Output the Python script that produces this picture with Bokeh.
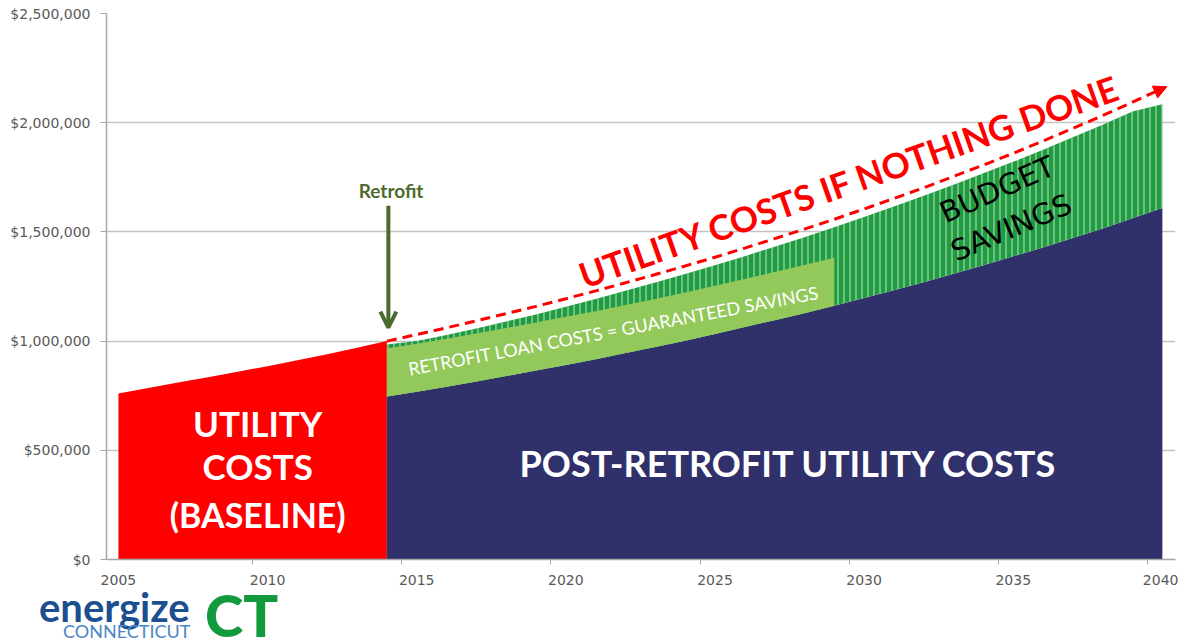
from bokeh.plotting import figure
from bokeh.layouts import column
from bokeh.models import Range1d, FixedTicker, NumeralTickFormatter, Label, Arrow, OpenHead, NormalHead, Div
from bokeh.embed import file_html
from bokeh.resources import INLINE

# ---------------- data (US$) ----------------
base_years = [2005, 2006, 2007, 2008, 2009, 2010, 2011, 2012, 2013, 2014]
baseline_costs = [760000, 785000, 810000, 835000, 860000, 885000, 912000, 940000, 970000, 1000000]

after_years = [2014, 2015, 2016, 2017, 2018, 2019, 2020, 2021, 2022, 2023, 2024, 2025, 2026,
               2027, 2028, 2029, 2030, 2031, 2032, 2033, 2034, 2035, 2036, 2037, 2038, 2039, 2040]
nothing_done = [1000000, 1030000, 1061000, 1093000, 1126000, 1159000, 1194000, 1230000, 1267000,
                1305000, 1344000, 1384000, 1426000, 1469000, 1513000, 1558000, 1605000, 1653000,
                1702000, 1754000, 1806000, 1860000, 1916000, 1974000, 2033000, 2094000, 2157000]
post_retrofit = [746000, 768000, 791000, 815000, 840000, 865000, 891000, 917000, 945000, 973000,
                 1002000, 1033000, 1064000, 1096000, 1128000, 1162000, 1197000, 1233000, 1270000,
                 1308000, 1347000, 1388000, 1429000, 1472000, 1516000, 1562000, 1609000]
budget_savings_top = [985000, 1000000, 1028000, 1058000, 1090000, 1122000, 1157000, 1193000, 1230000,
                      1268000, 1307000, 1347000, 1389000, 1432000, 1476000, 1521000, 1568000, 1616000,
                      1665000, 1716000, 1768000, 1821000, 1876000, 1933000, 1991000, 2051000, 2085000]
loan_years = [2014, 2015, 2016, 2017, 2018, 2019, 2020, 2021, 2022, 2023, 2024, 2025, 2026, 2027, 2028, 2029]
loan_top = [966000, 988000, 1011000, 1035000, 1060000, 1085000, 1111000, 1137000, 1165000,
            1193000, 1222000, 1253000, 1284000, 1316000, 1348000, 1382000]

x_tick_years = [2005, 2010, 2015, 2020, 2025, 2030, 2035, 2040]
x_tick_marks = [2004.5, 2009.5, 2014.5, 2019.5, 2024.5, 2029.5, 2034.5, 2039.5]
y_ticks = [0, 500000, 1000000, 1500000, 2000000, 2500000]

retrofit_year = 2014.05

# ---------------- figure ----------------
p = figure(width=1178, height=590,
           x_range=Range1d(2004.6, 2040.44), y_range=Range1d(0, 2500000),
           output_backend="svg", toolbar_location=None,
           min_border_left=106, min_border_right=3, min_border_top=13, min_border_bottom=31)
p.outline_line_color = None
p.background_fill_color = "white"
p.xgrid.visible = False
p.ygrid.grid_line_color = "#c4c4c4"
p.ygrid.grid_line_width = 1.5

p.yaxis.ticker = FixedTicker(ticks=y_ticks)
p.yaxis.formatter = NumeralTickFormatter(format="$0,0")
p.xaxis.ticker = FixedTicker(ticks=x_tick_years, minor_ticks=x_tick_marks)
for ax in (p.xaxis[0], p.yaxis[0]):
    ax.axis_line_color = "#a6a6a6"
    ax.axis_line_width = 1.5
    ax.major_tick_line_color = "#a6a6a6"
    ax.minor_tick_line_color = "#a6a6a6"
    ax.major_label_text_color = "#595959"
    ax.major_label_text_font = "DejaVu Sans"
    ax.major_label_text_font_size = "14px"
p.yaxis.major_tick_out = 6
p.yaxis.major_tick_in = 0
p.yaxis.minor_tick_out = 0
p.yaxis.minor_tick_in = 0
p.yaxis.major_label_standoff = 10
p.xaxis.major_tick_out = 0
p.xaxis.major_tick_in = 0
p.xaxis.minor_tick_out = 5
p.xaxis.minor_tick_in = 0
p.xaxis.major_label_standoff = 10

# ---------------- areas ----------------
p.varea(x=base_years, y1=0, y2=baseline_costs, fill_color="#ff0000")
p.varea(x=after_years, y1=0, y2=post_retrofit, fill_color="#30306a")
p.varea(x=after_years, y1=post_retrofit, y2=budget_savings_top, fill_color="#1f9c3f",
        hatch_pattern="vertical_line", hatch_color="white", hatch_alpha=0.6,
        hatch_scale=6, hatch_weight=1.2)
p.varea(x=loan_years, y1=post_retrofit[:len(loan_years)], y2=loan_top, fill_color="#93c95a")

# dashed "if nothing done" line with arrow head
p.line(after_years, nothing_done, line_color="#ff0000", line_width=3, line_dash="10 6")
p.add_layout(Arrow(end=NormalHead(size=13, fill_color="#ff0000", line_color="#ff0000"),
                   x_start=after_years[-2], y_start=nothing_done[-2],
                   x_end=after_years[-1] + 0.15, y_end=nothing_done[-1] + 8000,
                   line_alpha=0))

# retrofit arrow
p.add_layout(Arrow(end=OpenHead(size=16, line_color="#4b6a2e", line_width=4),
                   x_start=retrofit_year, y_start=1620000, x_end=retrofit_year, y_end=1062000,
                   line_color="#4b6a2e", line_width=4))


def lab(fig, x, y, text, size, color, bold=True, angle=0.0, font="Lato"):
    fig.add_layout(Label(x=x, y=y, text=text, text_font=font, text_font_size=size,
                         text_color=color, text_font_style="bold" if bold else "normal",
                         text_align="center", text_baseline="middle", angle=angle))


lab(p, 2014.14, 1690000, "Retrofit", "19px", "#4e6b2e")
lab(p, 2029.5, 1735000, "UTILITY COSTS IF NOTHING DONE", "35px", "#ff0000", angle=0.34)
lab(p, 2021.6, 1049000, "RETROFIT LOAN COSTS = GUARANTEED SAVINGS", "18px", "white", bold=False, angle=0.185)
lab(p, 2034.46, 1694000, "BUDGET", "29px", "black", bold=False, angle=0.42, font="DejaVu Sans")
lab(p, 2034.93, 1520000, "SAVINGS", "29px", "black", bold=False, angle=0.40, font="DejaVu Sans")
lab(p, 2027.47, 444000, "POST-RETROFIT UTILITY COSTS", "36px", "white")
lab(p, 2009.67, 627000, "UTILITY", "35px", "white")
lab(p, 2009.67, 426000, "COSTS", "35px", "white")
lab(p, 2009.67, 206000, "(BASELINE)", "34px", "white")

# ---------------- logo strip ----------------
logo_html = (
    '<div style="position:relative;width:320px;height:50px;font-family:Lato, sans-serif;">'
    '<span style="position:absolute;left:34px;top:0px;font-size:40px;font-weight:bold;'
    'color:#1c4f8f;line-height:0.6;white-space:nowrap;">energize</span>'
    '<span style="position:absolute;left:58px;top:31px;font-size:18px;'
    'color:#4a86c5;line-height:0.6;white-space:nowrap;">CONNECTICUT</span>'
    '<span style="position:absolute;left:200px;top:3px;font-size:58px;font-weight:900;'
    'color:#129a3c;line-height:0.6;white-space:nowrap;">CT</span>'
    '</div>'
)
logo = Div(text=logo_html, width=320, height=50)

layout = column(p, logo, spacing=0)
open("out.html", "w").write(file_html(layout, INLINE))
